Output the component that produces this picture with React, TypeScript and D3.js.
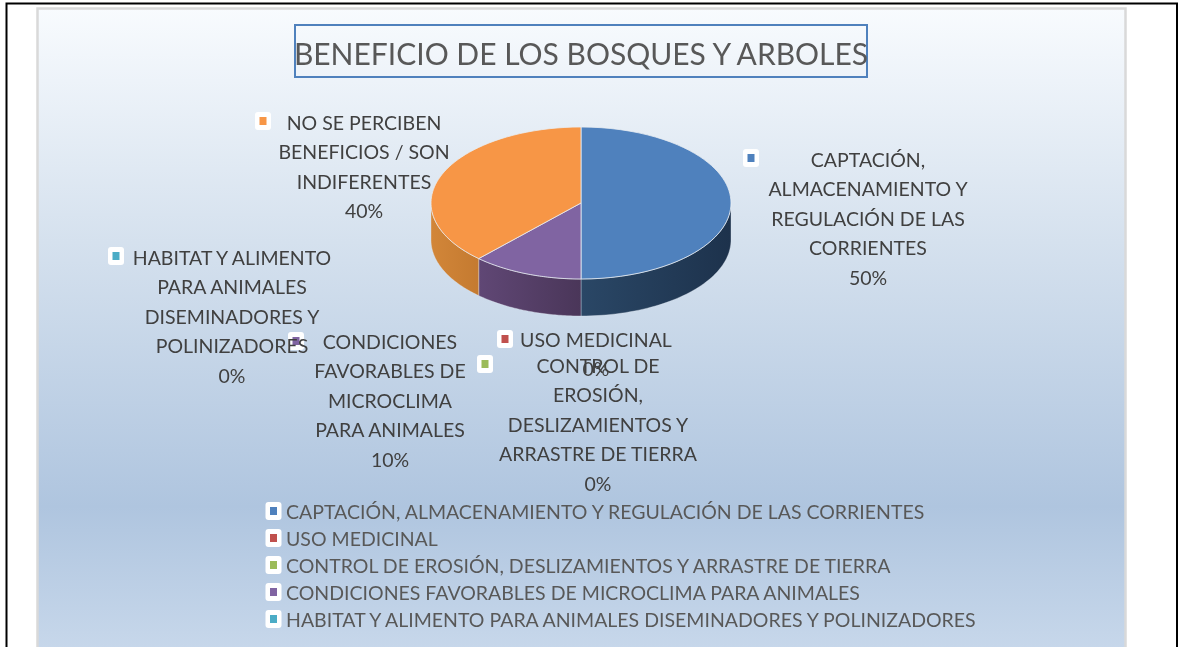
import React from "react";
import * as d3 from "d3";

const categories = [
  "CAPTACIÓN, ALMACENAMIENTO Y REGULACIÓN DE LAS CORRIENTES",
  "USO MEDICINAL",
  "CONTROL DE EROSIÓN, DESLIZAMIENTOS Y ARRASTRE DE TIERRA",
  "CONDICIONES FAVORABLES DE MICROCLIMA PARA ANIMALES",
  "HABITAT Y ALIMENTO PARA ANIMALES DISEMINADORES Y POLINIZADORES",
  "NO SE PERCIBEN BENEFICIOS / SON INDIFERENTES",
];
const values = [50, 0, 0, 10, 0, 40];
const colors = ["#4f81bd", "#c0504d", "#9bbb59", "#8064a2", "#4bacc6", "#f79646"];
const wallStart = ["#2a4766", "", "", "#604775", "", "#d28639"];
const wallEnd = ["#1d324c", "", "", "#4a3659", "", "#c47a30"];
const labelLines = [
  ["CAPTACIÓN,", "ALMACENAMIENTO Y", "REGULACIÓN DE LAS", "CORRIENTES", "50%"],
  ["USO MEDICINAL", "0%"],
  ["CONTROL DE", "EROSIÓN,", "DESLIZAMIENTOS Y", "ARRASTRE DE TIERRA", "0%"],
  ["CONDICIONES", "FAVORABLES DE", "MICROCLIMA", "PARA ANIMALES", "10%"],
  ["HABITAT Y ALIMENTO", "PARA ANIMALES", "DISEMINADORES Y", "POLINIZADORES", "0%"],
  ["NO SE PERCIBEN", "BENEFICIOS / SON", "INDIFERENTES", "40%"],
];
const legendCount = 5;

// layout (kept apart from the data)
const W = 1178, H = 647;
const cx = 581, cy = 203, rx = 150, ry = 76, depth = 37;
const labelCx = [868, 596, 598, 390, 232, 364];
const labelY0 = [159, 339, 365, 341, 257, 122];
const labelDy = 29.5;
const swatch = [[751, 158], [505, 339], [485, 364], [296, 341], [116, 256], [263, 121]];
const FONT = "Lato, 'Open Sans', sans-serif";
const LABEL_SIZE = 19.5;

const pie = d3.pie<number>().sort(null).value((d) => d)(values);
const xS = d3.scaleLinear().domain([-1, 1]).range([cx - rx, cx + rx]);
const yS = d3.scaleLinear().domain([-1, 1]).range([cy - ry, cy + ry]);

// Perspective warp of the 3D view: angles measured from the front of the pie get widened.
const warp = (a: number) => {
  const fromBottom = a - Math.PI;
  if (Math.abs(Math.abs(fromBottom) - Math.PI / 2) < 1e-6 || Math.abs(fromBottom) < 1e-6) return a;
  const k = 1.283;
  let p = Math.atan(k * Math.tan(fromBottom));
  if (Math.abs(fromBottom) > Math.PI / 2) p += fromBottom > 0 ? Math.PI : -Math.PI;
  return p + Math.PI;
};
const pt = (a: number): [number, number] => {
  const p = warp(a);
  return [xS(Math.sin(p)), yS(-Math.cos(p))];
};
const samples = (a0: number, a1: number) =>
  d3.range(0, 61).map((i) => pt(a0 + ((a1 - a0) * i) / 60));
const line = d3.line();
const topPath = (a0: number, a1: number) =>
  line([[cx, cy], ...samples(a0, a1)])! + "Z";
const wallPath = (a0: number, a1: number) => {
  const front0 = Math.max(a0, Math.PI / 2);
  const front1 = Math.min(a1, (3 * Math.PI) / 2);
  if (front1 <= front0) return "";
  const upper = samples(front0, front1);
  const lower = upper.slice().reverse().map(([x, y]) => [x, y + depth] as [number, number]);
  return line([...upper, ...lower])! + "Z";
};

export default function App() {
  const drawn = pie.filter((s) => s.value > 0);
  return (
    <svg
      width={W}
      height={H}
      viewBox={`0 0 ${W} ${H}`}
      style={{ position: "absolute", left: 0, top: 0, display: "block" }}
    >
      <defs>
        <linearGradient id="bg" x1="0" y1="0" x2="0" y2="1">
          <stop offset="0" stopColor="#f8fbfe" />
          <stop offset="0.36" stopColor="#d5e1ee" />
          <stop offset="0.77" stopColor="#afc5df" />
          <stop offset="1" stopColor="#c8d8eb" />
        </linearGradient>
        {drawn.map((s) => (
          <linearGradient id={`wall${s.index}`} key={s.index} x1="0" y1="0" x2="1" y2="0">
            <stop offset="0" stopColor={wallStart[s.index]} />
            <stop offset="1" stopColor={wallEnd[s.index]} />
          </linearGradient>
        ))}
        <filter id="soft" x="-5%" y="-5%" width="110%" height="110%">
          <feGaussianBlur stdDeviation="0.35" />
        </filter>
      </defs>
      <rect x={0} y={0} width={W} height={H} fill="#fff" />
      <path d={`M6.5 ${H}V3.5H${W - 1}V${H}`} fill="none" stroke="#000" strokeWidth={2} />
      <rect x={37.5} y={8.5} width={1088} height={H} fill="url(#bg)" stroke="#d9d9d9" strokeWidth={2.5} />

      <rect x={295} y={25} width={572} height={52} fill="none" stroke="#4f81bd" strokeWidth={2} />
      <g filter="url(#soft)">
        <text x={581} y={53} textAnchor="middle" dominantBaseline="central" fontFamily={FONT} fontSize={30} fill="#595959">
          BENEFICIO DE LOS BOSQUES Y ARBOLES
        </text>
      </g>

      {drawn.map((s) => {
        const d = wallPath(s.startAngle, s.endAngle);
        return d ? <path key={s.index} d={d} fill={`url(#wall${s.index})`} stroke="#e4e9f0" strokeWidth={0.6} strokeOpacity={0.6} /> : null;
      })}
      {drawn.map((s) => (
        <path key={s.index} d={topPath(s.startAngle, s.endAngle)} fill={colors[s.index]} stroke="#e9edf3" strokeWidth={0.8} />
      ))}

      {labelLines.map((lines, i) => (
        <g key={i}>
          <rect x={swatch[i][0] - 8} y={swatch[i][1] - 9} width={16} height={18} rx={3} fill="#fff" />
          <rect x={swatch[i][0] - 3.5} y={swatch[i][1] - 4} width={7} height={8} fill={colors[i]} />
          <g filter="url(#soft)">
            {lines.map((t, j) => (
              <text key={j} x={labelCx[i]} y={labelY0[i] + j * labelDy} textAnchor="middle" dominantBaseline="central" fontFamily={FONT} fontSize={LABEL_SIZE} fill="#404040">
                {t}
              </text>
            ))}
          </g>
        </g>
      ))}

      {categories.slice(0, legendCount).map((c, i) => {
        const y = 511 + i * 27;
        return (
          <g key={c}>
            <rect x={265.5} y={y - 9} width={16} height={18} rx={3} fill="#fff" />
            <rect x={270} y={y - 4} width={7} height={8} fill={colors[i]} />
            <g filter="url(#soft)">
              <text x={286} y={y} dominantBaseline="central" fontFamily={FONT} fontSize={LABEL_SIZE} fill="#595959">
                {c}
              </text>
            </g>
          </g>
        );
      })}
    </svg>
  );
}
